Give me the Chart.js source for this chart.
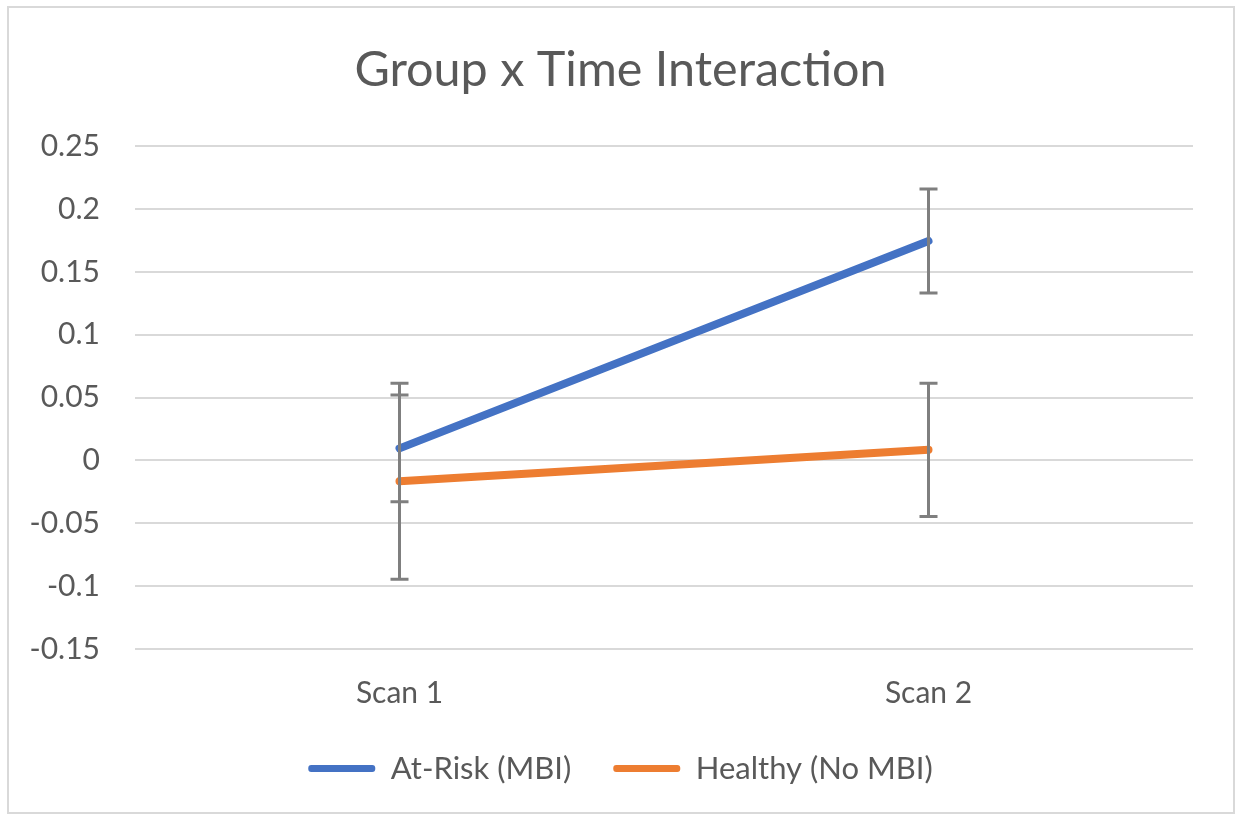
<!DOCTYPE html>
<html lang="en">
<head>
  <meta charset="UTF-8">
  <title>Group x Time Interaction</title>
  <script src="https://cdn.jsdelivr.net/npm/chart.js"></script>
  <style>
    html, body { margin: 0; padding: 0; background: #fff; }
    #wrap { position: absolute; left: 7px; top: 6px; width: 1228px; height: 808px; border: 2px solid #d9d9d9; box-sizing: border-box; }
    #box { position: absolute; left: 0; top: 0; width: 1241px; height: 819px; }
  </style>
</head>
<body>
  <div id="wrap"></div>
  <div id="box"><canvas id="chart"></canvas></div>

  <script>
    const labels = ['Scan 1', 'Scan 2'];
    const atRisk = [0.0096, 0.1746];
    const atRiskErr = [0.0425, 0.0413];
    const healthy = [-0.0165, 0.0085];
    const healthyErr = [0.078, 0.053];
    const yTicks = [-0.15, -0.1, -0.05, 0, 0.05, 0.1, 0.15, 0.2, 0.25];

    const FONT = 'Lato, "Open Sans", sans-serif';
    const GREY = '#595959';

    // draws the +/- error bars for each dataset
    const errorBars = {
      id: 'errorBars',
      afterDatasetsDraw(chart) {
        const ctx = chart.ctx;
        const xs = chart.scales.x, ys = chart.scales.y;
        ctx.save();
        ctx.strokeStyle = '#7f7f7f';
        ctx.lineWidth = 3;
        chart.data.datasets.forEach(ds => {
          ds.data.forEach((v, i) => {
            const e = ds.err[i];
            const x = xs.getPixelForValue(i);
            const top = ys.getPixelForValue(v + e);
            const bot = ys.getPixelForValue(v - e);
            ctx.beginPath();
            ctx.moveTo(x, top); ctx.lineTo(x, bot);
            ctx.moveTo(x - 9, top); ctx.lineTo(x + 9, top);
            ctx.moveTo(x - 9, bot); ctx.lineTo(x + 9, bot);
            ctx.stroke();
          });
        });
        ctx.restore();
      }
    };

    const ctx = document.getElementById('chart').getContext('2d');
    new Chart(ctx, {
      type: 'line',
      data: {
        labels: labels,
        datasets: [
          {
            label: 'At-Risk (MBI)',
            data: atRisk,
            err: atRiskErr,
            borderColor: '#4472c4',
            backgroundColor: '#4472c4',
            borderWidth: 8,
            borderCapStyle: 'round',
            pointRadius: 0
          },
          {
            label: 'Healthy (No MBI)',
            data: healthy,
            err: healthyErr,
            borderColor: '#ed7d31',
            backgroundColor: '#ed7d31',
            borderWidth: 8,
            borderCapStyle: 'round',
            pointRadius: 0
          }
        ]
      },
      options: {
        responsive: true,
        maintainAspectRatio: false,
        animation: false,
        layout: { padding: { left: 0, right: 0, top: 0, bottom: 25 } },
        plugins: {
          title: {
            display: true,
            text: 'Group x Time Interaction',
            color: GREY,
            font: { family: FONT, size: 48.5, weight: 'normal' },
            padding: { top: 41, bottom: 47 }
          },
          legend: {
            position: 'bottom',
            labels: {
              color: GREY,
              font: { family: FONT, size: 31 },
              boxWidth: 67,
              boxHeight: 7,
              useBorderRadius: true,
              borderRadius: 3,
              padding: 42,
              generateLabels(chart) {
                return chart.data.datasets.map((ds, i) => ({
                  text: ds.label,
                  fillStyle: ds.borderColor,
                  strokeStyle: ds.borderColor,
                  lineWidth: 0,
                  fontColor: GREY,
                  borderRadius: 3,
                  datasetIndex: i
                }));
              }
            }
          },
          tooltip: { enabled: false }
        },
        scales: {
          x: {
            offset: true,
            grid: { display: false, drawTicks: false },
            border: { display: false },
            afterFit(axis) { axis.height = 62; },
            ticks: { color: GREY, font: { family: FONT, size: 30 }, padding: 26 }
          },
          y: {
            min: -0.15,
            max: 0.25,
            afterBuildTicks(axis) { axis.ticks = yTicks.map(v => ({ value: v })); },
            afterFit(axis) { axis.width = 135; },
            grid: { color: '#d9d9d9', lineWidth: 2, drawTicks: false },
            border: { display: false },
            ticks: {
              color: GREY,
              font: { family: FONT, size: 30 },
              padding: 35,
              callback: v => String(Math.round(v * 100) / 100)
            }
          },
          // empty right-hand strip so the plot ends where the reference does
          yRight: {
            position: 'right',
            grid: { display: false },
            border: { display: false },
            ticks: { display: false },
            afterFit(axis) { axis.width = 48; }
          }
        }
      },
      plugins: [errorBars]
    });
  </script>
</body>
</html>
